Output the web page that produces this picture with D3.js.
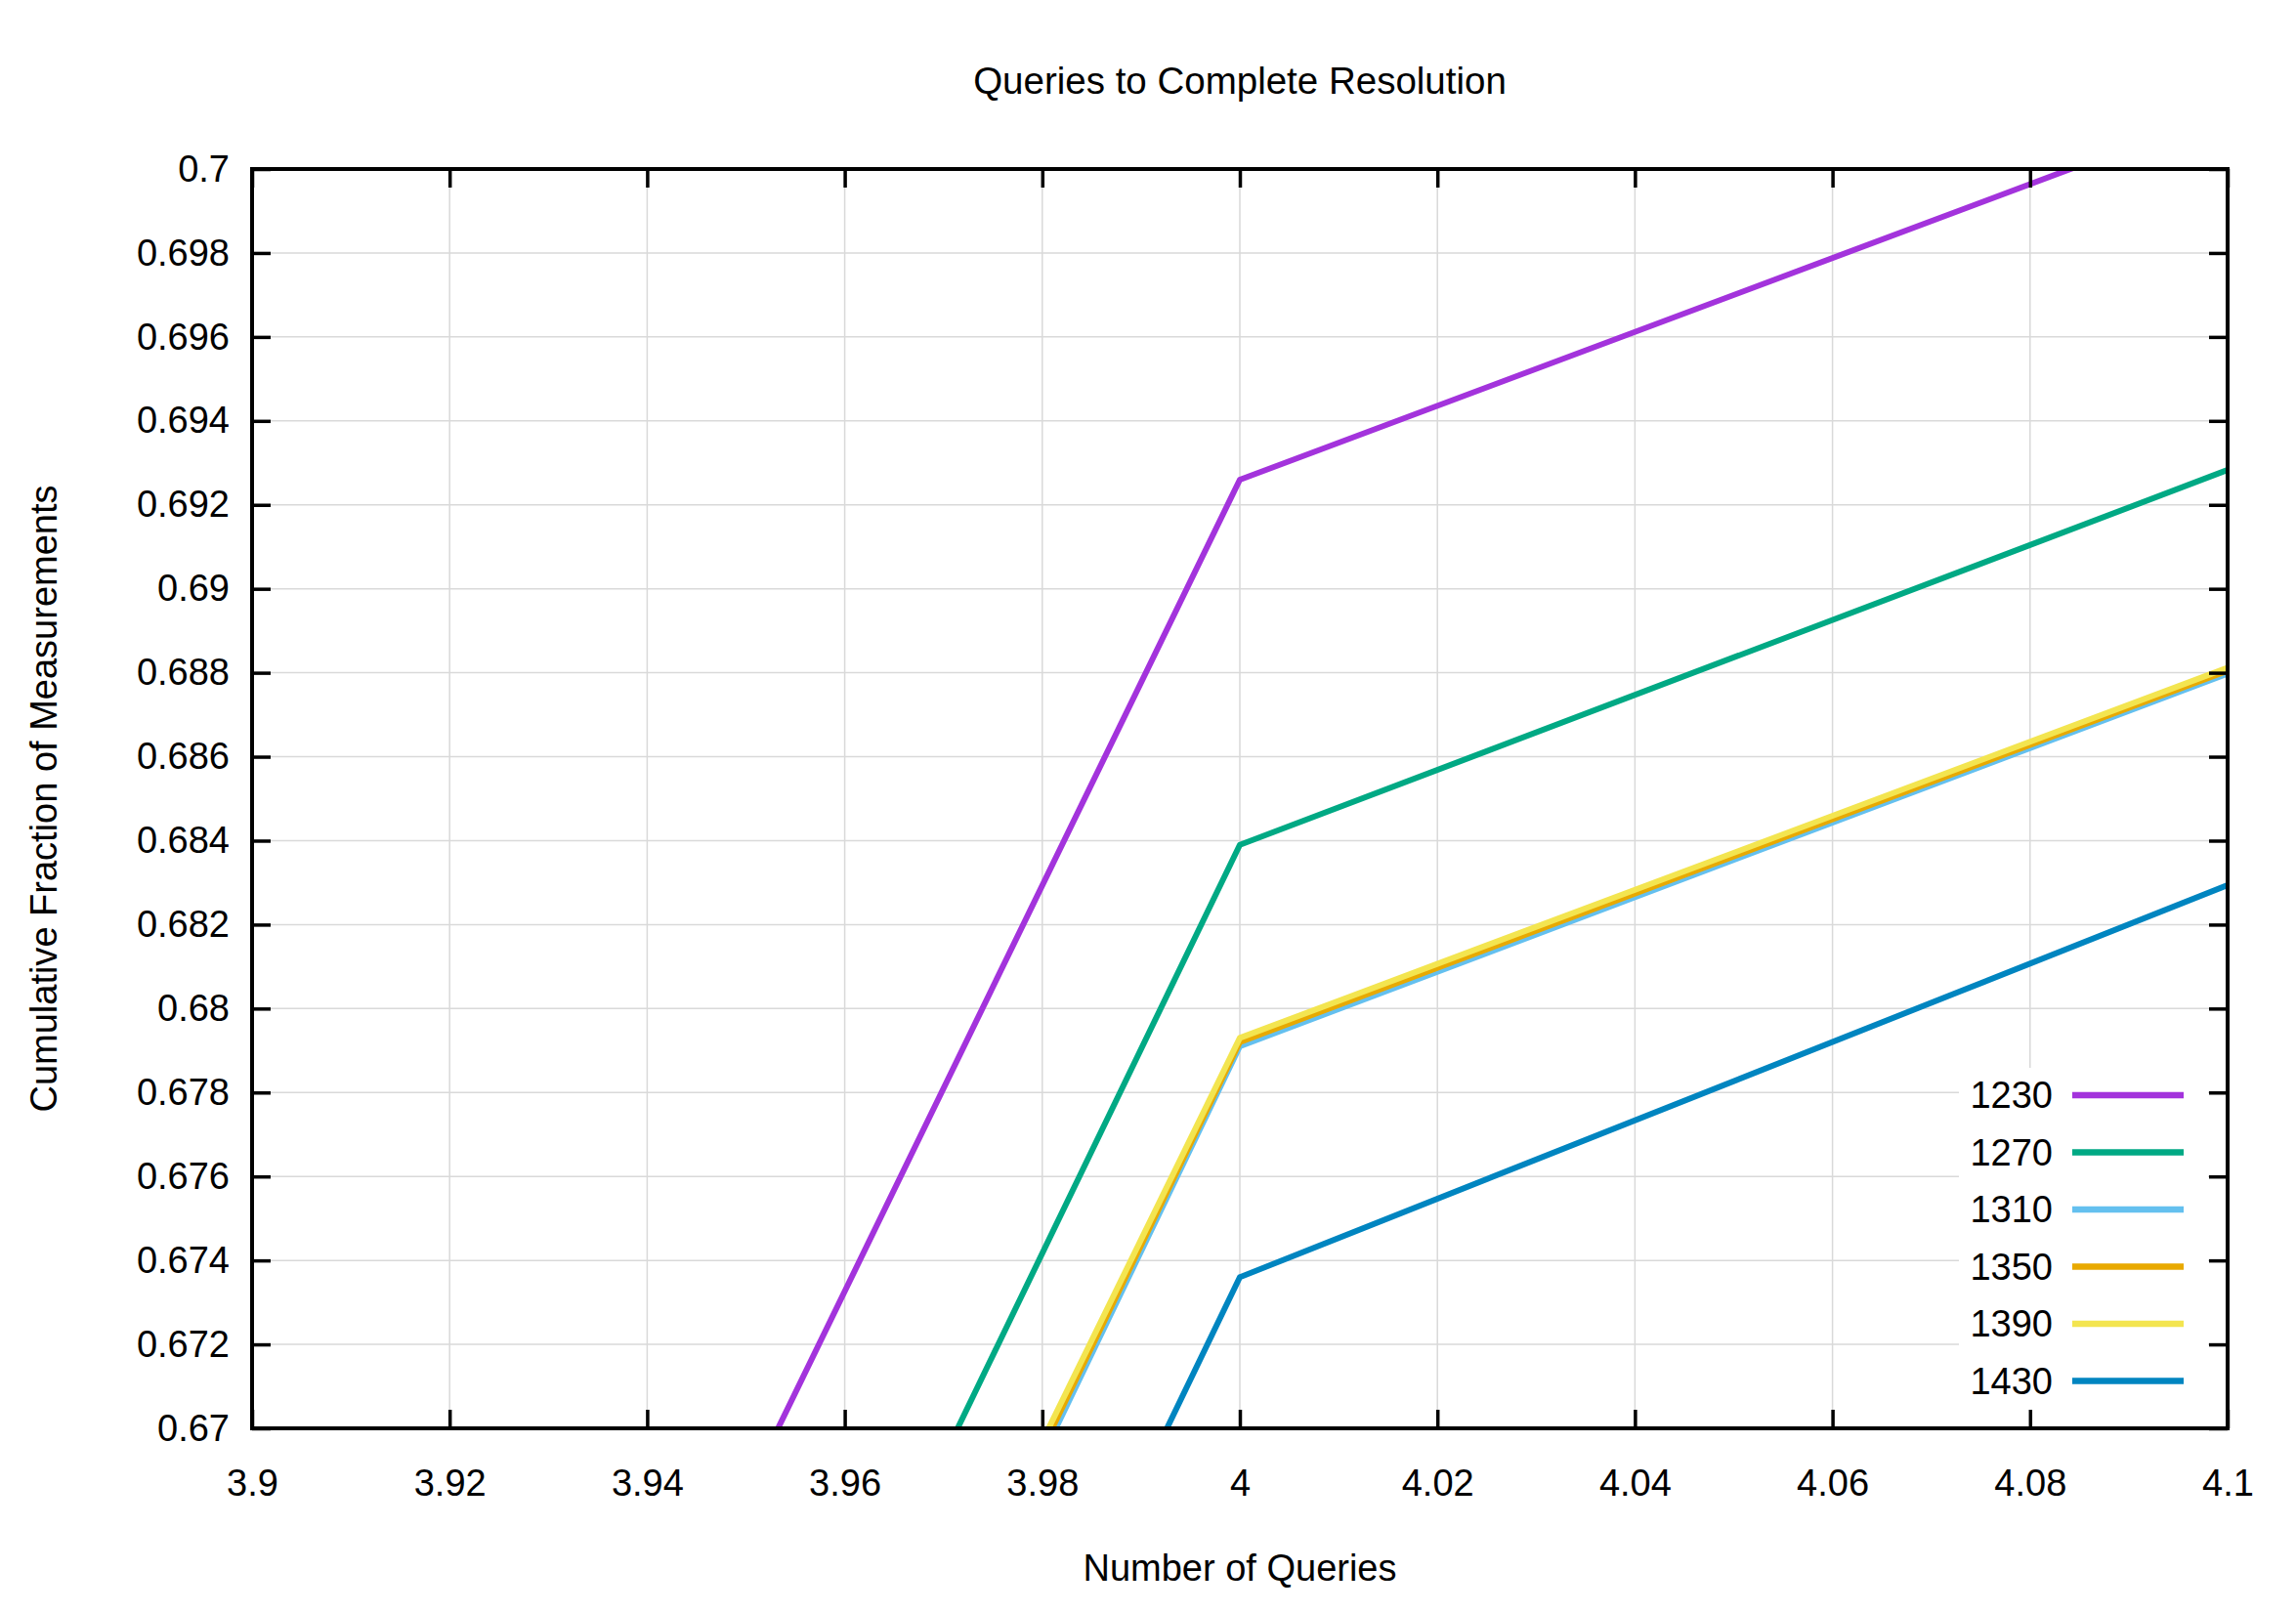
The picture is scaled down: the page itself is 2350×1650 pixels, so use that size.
<!DOCTYPE html>
<html>
<head>
<meta charset="utf-8">
<script src="https://cdn.jsdelivr.net/npm/d3@7"></script>
<style>
  html, body { margin: 0; padding: 0; background: #fff; }
  svg { display: block; }
  text { font-family: "Liberation Sans", Arial, Helvetica, sans-serif; fill: #000; }
</style>
</head>
<body>
<svg id="chart" width="2350" height="1650"></svg>
<script>
// ---- data ----
const seriesNames = ["1230", "1270", "1310", "1350", "1390", "1430"];
const seriesColors = ["#a333dc", "#00a984", "#64c0ef", "#e8a900", "#f3e550", "#0085c0"];
const queries = [3, 4, 5];
const v1230 = [0.2092, 0.6926, 0.7806];
const v1270 = [0.1974, 0.6839, 0.7732];
const v1310 = [0.1906, 0.6791, 0.7679];
const v1350 = [0.1950, 0.6792, 0.7677];
const v1390 = [0.1989, 0.6793, 0.7675];
const v1430 = [0.1859, 0.6736, 0.7670];
const seriesValues = [v1230, v1270, v1310, v1350, v1390, v1430];
const xTicks = [3.9, 3.92, 3.94, 3.96, 3.98, 4, 4.02, 4.04, 4.06, 4.08, 4.1];
const yTicks = [0.67, 0.672, 0.674, 0.676, 0.678, 0.68, 0.682, 0.684, 0.686, 0.688, 0.69, 0.692, 0.694, 0.696, 0.698, 0.7];
const titleText = "Queries to Complete Resolution";
const xLabel = "Number of Queries";
const yLabel = "Cumulative Fraction of Measurements";

// ---- layout ----
const L = 258, R = 2280, T = 173, B = 1462;
const FS = 38;
const svg = d3.select("#chart");
const x = d3.scaleLinear().domain([3.9, 4.1]).range([L, R]);
const y = d3.scaleLinear().domain([0.67, 0.7]).range([B, T]);
const fmt = d => String(+d.toFixed(3));

svg.append("rect").attr("width", 2350).attr("height", 1650).attr("fill", "#fff");

// grid
const grid = svg.append("g");
grid.selectAll("line.gx").data(xTicks).join("line")
  .attr("x1", d => x(d)).attr("x2", d => x(d)).attr("y1", T).attr("y2", B)
  .attr("stroke", "#d9d9d9").attr("stroke-width", 1.5);
grid.selectAll("line.gy").data(yTicks).join("line")
  .attr("y1", d => y(d)).attr("y2", d => y(d)).attr("x1", L).attr("x2", R)
  .attr("stroke", "#d9d9d9").attr("stroke-width", 1.5);

// clip
svg.append("defs").append("clipPath").attr("id", "plotclip")
  .append("rect").attr("x", L).attr("y", T).attr("width", R - L).attr("height", B - T);

const line = d3.line().x(d => x(d[0])).y(d => y(d[1]));
const plot = svg.append("g").attr("clip-path", "url(#plotclip)");
seriesNames.forEach((name, i) => {
  const pts = queries.map((q, j) => [q, seriesValues[i][j]]);
  plot.append("path").datum(pts)
    .attr("d", line)
    .attr("fill", "none")
    .attr("stroke", seriesColors[i])
    .attr("stroke-width", 6)
    .attr("stroke-linejoin", "round");
});

// legend (opaque box)
const legX = 2101, legLineX1 = 2121, legLineX2 = 2235, legY0 = 1121, legDY = 58.5;
svg.append("rect").attr("x", 2005).attr("y", 1093).attr("width", 255).attr("height", 360).attr("fill", "#fff");
seriesNames.forEach((name, i) => {
  const cy = legY0 + i * legDY;
  svg.append("text").attr("x", legX).attr("y", cy).attr("dy", "0.35em")
    .attr("text-anchor", "end").attr("font-size", FS).text(name);
  svg.append("line").attr("x1", legLineX1).attr("x2", legLineX2).attr("y1", cy).attr("y2", cy)
    .attr("stroke", seriesColors[i]).attr("stroke-width", 6.5);
});

// axes with inward ticks
const tickLen = 19;
const axB = d3.axisBottom(x).tickValues(xTicks).tickFormat(fmt).tickSizeInner(-tickLen).tickSizeOuter(0).tickPadding(42);
const axT = d3.axisTop(x).tickValues(xTicks).tickFormat("").tickSizeInner(-tickLen).tickSizeOuter(0);
const axL = d3.axisLeft(y).tickValues(yTicks).tickFormat(fmt).tickSizeInner(-tickLen).tickSizeOuter(0).tickPadding(23);
const axR = d3.axisRight(y).tickValues(yTicks).tickFormat("").tickSizeInner(-tickLen).tickSizeOuter(0);

function styleAxis(g) {
  g.select(".domain").remove();
  g.selectAll(".tick line").attr("stroke", "#000").attr("stroke-width", 3.5);
  g.selectAll(".tick text").attr("font-size", FS).attr("font-family", "Liberation Sans, Arial, sans-serif").attr("fill", "#000");
}
svg.append("g").attr("transform", `translate(0,${B})`).call(axB).call(styleAxis);
svg.append("g").attr("transform", `translate(0,${T})`).call(axT).call(styleAxis);
svg.append("g").attr("transform", `translate(${L},0)`).call(axL).call(styleAxis);
svg.append("g").attr("transform", `translate(${R},0)`).call(axR).call(styleAxis);

// border
svg.append("rect").attr("x", L).attr("y", T).attr("width", R - L).attr("height", B - T)
  .attr("fill", "none").attr("stroke", "#000").attr("stroke-width", 4);

// titles
svg.append("text").attr("x", (L + R) / 2).attr("y", 83).attr("dy", "0.35em")
  .attr("text-anchor", "middle").attr("font-size", 38.5).text(titleText);
svg.append("text").attr("x", (L + R) / 2).attr("y", 1605).attr("dy", "0.35em")
  .attr("text-anchor", "middle").attr("font-size", FS).text(xLabel);
svg.append("text").attr("transform", `translate(45,${(T + B) / 2}) rotate(-90)`).attr("dy", "0.35em")
  .attr("text-anchor", "middle").attr("font-size", FS).text(yLabel);
</script>
</body>
</html>
